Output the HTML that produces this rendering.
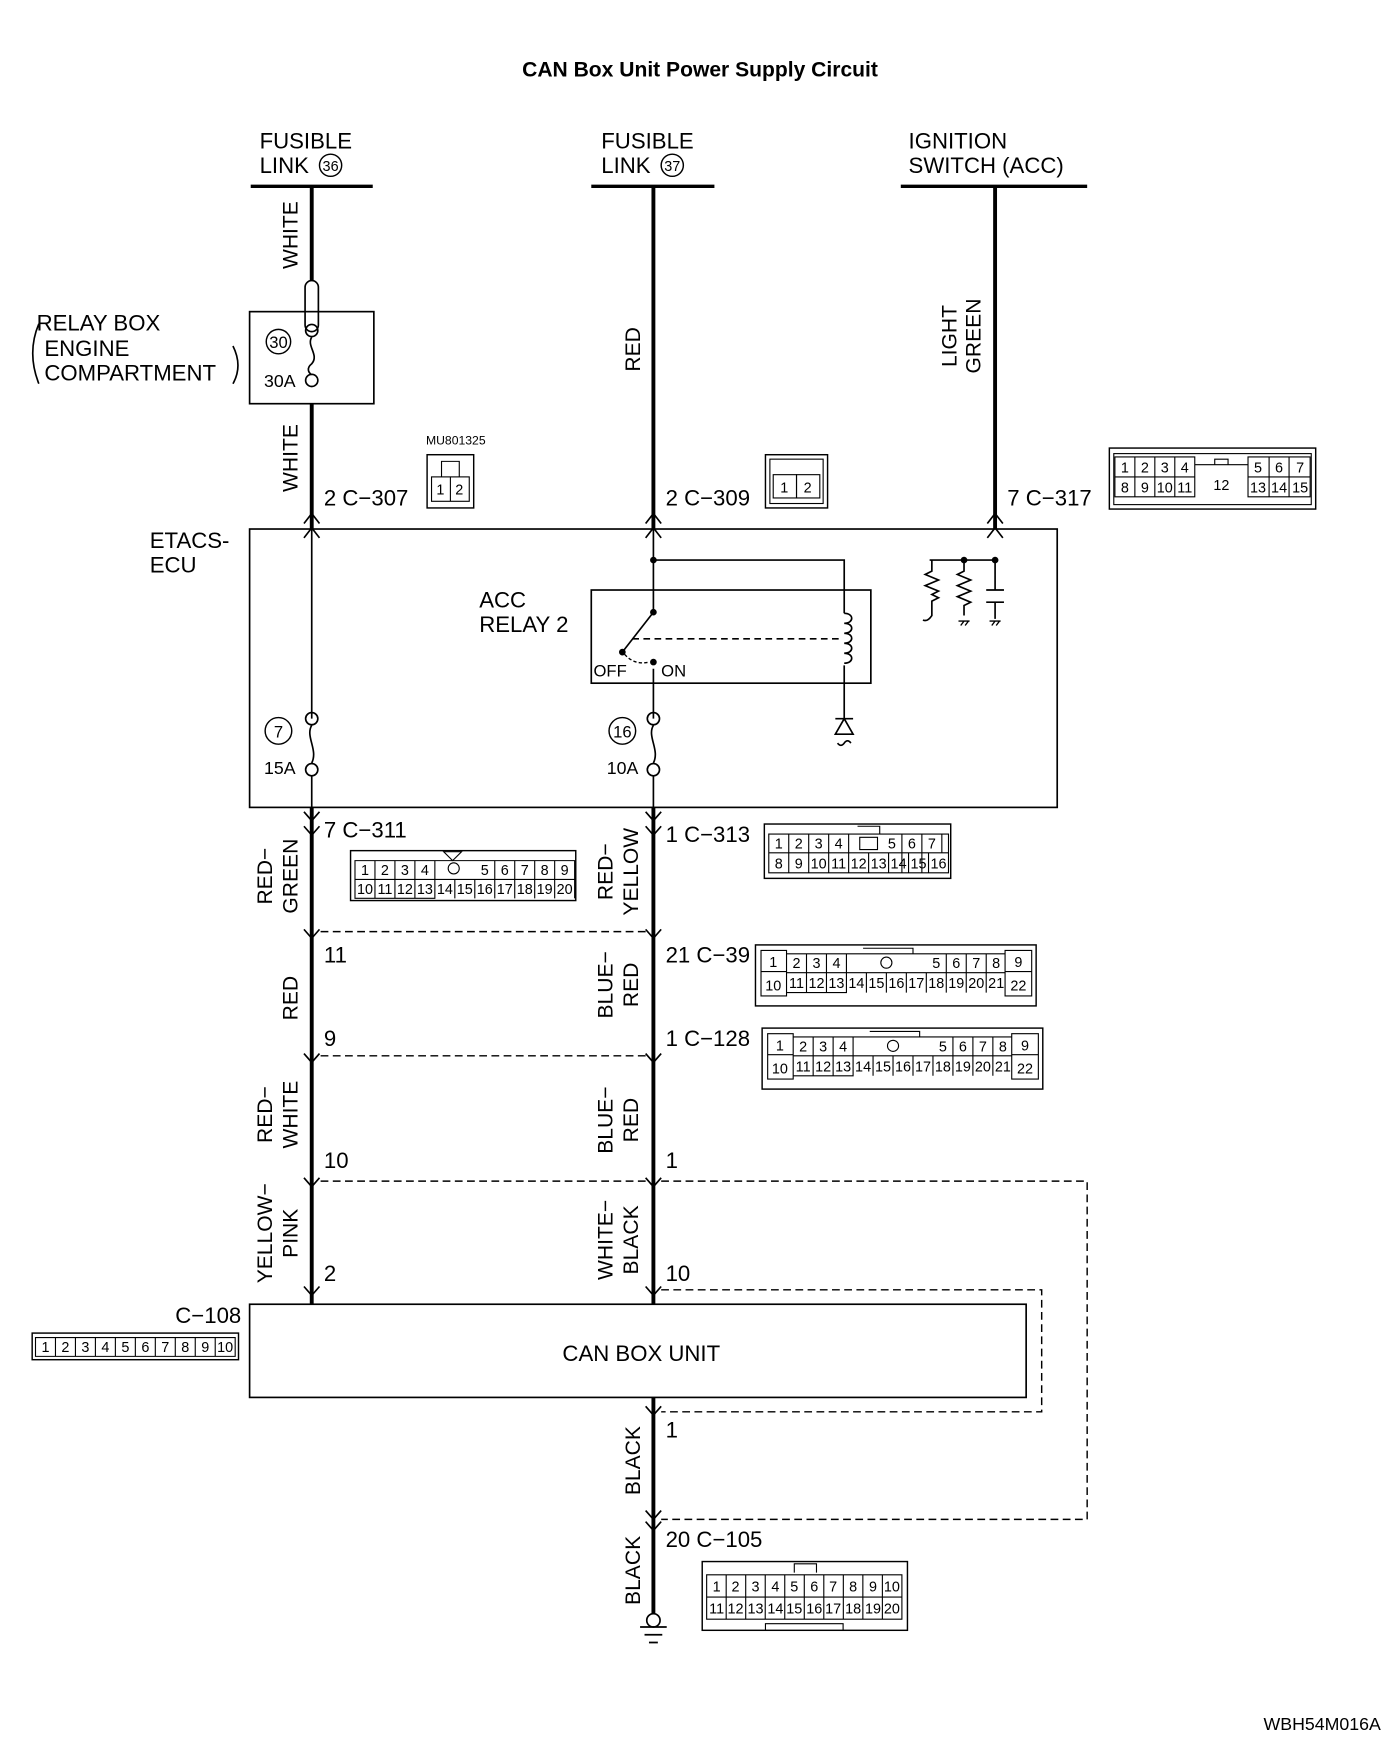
<!DOCTYPE html>
<html><head><meta charset="utf-8"><style>
html,body{margin:0;padding:0;background:#fff}
svg{display:block}
text{font-family:"Liberation Sans",sans-serif;fill:#000}
.c{font-size:13px;text-anchor:middle}
.n{font-size:20px}
.w{font-size:19px;text-anchor:middle}
</style></head><body>
<svg width="1400" height="1739" viewBox="0 0 1262 1568" preserveAspectRatio="none" xmlns="http://www.w3.org/2000/svg">
<g fill="none" stroke="#000">
<line x1="226" y1="168" x2="336" y2="168" stroke-width="3"/>
<line x1="533" y1="168" x2="644" y2="168" stroke-width="3"/>
<line x1="812" y1="168" x2="980" y2="168" stroke-width="3"/>
<path d="M281 168V253M281 364V477M589 168V477M897 168V477" stroke-width="3.5"/>
<path d="M281 728V1176M589 728V1176M589 1260V1455" stroke-width="3.5"/>
<rect x="225" y="281" width="112" height="83" stroke-width="1.5"/>
<rect x="275" y="253" width="12" height="46" rx="6" stroke-width="1.5"/>
<circle cx="281" cy="298" r="5.5" stroke-width="1.5"/><circle cx="281" cy="343" r="5.5" stroke-width="1.5"/>
<path d="M281 304C276 312 288 320 281 328C276 332 278 336 281 338" stroke-width="1.5"/>
<circle cx="251" cy="308" r="11" stroke-width="1.3"/>
<path d="M35 292Q24 318 35 346M210 312Q219 330 210 346" stroke-width="1.5"/>
<path d="M274 472L281 463L288 472M274 485L281 476L288 485M582 472L589 463L596 472M582 485L589 476L596 485M890 472L897 463L904 472M890 485L897 476L904 485" stroke-width="1.5"/>
<rect x="225" y="477" width="728" height="251" stroke-width="1.5"/>
<path d="M281 477V648M281 700V728M589 477V552M589 603V648M589 700V728" stroke-width="1.5"/>
<circle cx="281" cy="648" r="5.5" stroke-width="1.5"/><circle cx="281" cy="694" r="5.5" stroke-width="1.5"/>
<path d="M281 654C275 664 287 676 281 688" stroke-width="1.5"/>
<circle cx="589" cy="648" r="5.5" stroke-width="1.5"/><circle cx="589" cy="694" r="5.5" stroke-width="1.5"/>
<path d="M589 654C583 664 595 676 589 688" stroke-width="1.5"/>
<circle cx="251" cy="659" r="12" stroke-width="1.3"/><circle cx="561" cy="659" r="12" stroke-width="1.3"/>
<rect x="533" y="532" width="252" height="84" stroke-width="1.5"/>
<path d="M589 505H761V553M761 600V648" stroke-width="1.5"/>
<path d="M761 553c9 0 9 9 0 9c9 0 9 9 0 9c9 0 9 9 0 9c9 0 9 9 0 9c9 0 9 9 0 9" stroke-width="1.5"/>
<path d="M589 552L561 588" stroke-width="1.5"/>
<path d="M570 576H757" stroke-width="1.5" stroke-dasharray="6 4"/>
<path d="M563 590Q572 600 585 597" stroke-width="1.2" stroke-dasharray="3 2"/>
<path d="M761 648L753 662H769Z M753 648H769 M755 670q3 4 6 0q3-4 6 0" stroke-width="1.5"/>
<path d="M838 505H897M869 505V515l-6 3l12 5l-12 5l12 5l-12 5l12 5l-6 3V555M840 505V515l-6 3l12 5l-12 5l12 5l-6 3l6 3l-6 3V555q-4 6-8 4M897 505V532M889 532H905M889 543H905M897 543V558" stroke-width="1.5"/>
<path d="M864 560H874M866 564l3-4M870 564l3-4M892 560H902M894 564l3-4M898 564l3-4" stroke-width="1.2"/>
<path d="M274 732L281 740L288 732M274 745L281 753L288 745M582 732L589 740L596 732M582 745L589 753L596 745" stroke-width="1.5"/>
<path d="M274 838L281 846L288 838M582 838L589 846L596 838M274 950L281 958L288 950M582 950L589 958L596 950M274 1062L281 1070L288 1062M582 1062L589 1070L596 1062M274 1160L281 1168L288 1160M582 1160L589 1168L596 1160M582 1268L589 1276L596 1268M582 1362L589 1370L596 1362M582 1372L589 1380L596 1372" stroke-width="1.5"/>
<path d="M289 840H582M289 952H582M289 1065H582M596 1065H980V1370H596M596 1163H939V1273H596" stroke-width="1.3" stroke-dasharray="7 4"/>
<rect x="225" y="1176" width="700" height="84" stroke-width="1.5"/>
<circle cx="589" cy="1461" r="6" stroke-width="1.5"/>
<path d="M577 1467H601M581 1474H597M585 1481H593" stroke-width="1.5"/>
<rect x="385" y="410" width="42" height="48" stroke-width="1.3"/><rect x="389" y="430" width="34" height="22"/><path d="M398 430V416H414V430"/>
<rect x="690" y="410" width="56" height="48" stroke-width="1.3"/><rect x="694" y="414" width="48" height="40"/>
<rect x="1000" y="404" width="186" height="55" stroke-width="1.3"/><rect x="1004" y="409" width="178" height="46"/>
<rect x="316" y="767" width="203" height="45" stroke-width="1.3"/>
<rect x="689" y="743" width="168" height="49" stroke-width="1.3"/>
<rect x="681" y="852" width="253" height="55" stroke-width="1.3"/>
<rect x="687" y="927" width="253" height="55" stroke-width="1.3"/>
<rect x="29" y="1202" width="186" height="24" stroke-width="1.3"/>
<rect x="633" y="1408" width="185" height="62" stroke-width="1.3"/><path d="M716 1418V1410H736V1418"/>
<g stroke-width="1">
<line x1="406" y1="430" x2="406" y2="452"/>
<rect x="697" y="428" width="21" height="21"/><rect x="718" y="428" width="21" height="21"/>
<path d="M1005 412H1077V448H1005ZM1023 412V448M1041 412V448M1059 412V448M1005 430H1077M1077 419H1125M1125 412H1181V448H1125ZM1144 412V448M1162 412V448M1125 430H1181M1095 419V414H1107V419"/>
<path d="M320 776H392V810H320ZM338 776V793M356 776V793M374 776V793M320 793H518V810M428 776H518V793M446 776V793M464 776V793M482 776V793M500 776V793M338 793V810M356 793V810M374 793V810M392 793V810M410 793V810M428 793V810M446 793V810M464 793V810M482 793V810M500 793V810M518 776V810M392 776H428M400 768H416L408 776Z"/>
<circle cx="409" cy="783" r="5"/>
<path d="M693 752H765V787H693ZM711 752V787M729 752V787M747 752V787M693 769H855V787H765M795 752H855V769M813 752V787M831 752V787M849 752V769M765 769V787M783 769V787M801 769V787M819 769V787M837 769V787M765 752H795M775 755H791V766H775ZM773 745H793V752"/>
<g id="c39">
<path d="M686 857H709V898H686ZM686 876H709M906 857H930V898H906ZM906 876H930M709 860H763V895H709ZM727 860V895M745 860V895M709 877H906V895M836 860H906V877M853 860V877M871 860V877M889 860V877M763 877V895M781 877V895M799 877V895M817 877V895M835 877V895M853 877V895M871 877V895M889 877V895M763 860H836M778 855H823V860"/>
<circle cx="799" cy="868" r="5"/>
</g>
<use href="#c39" x="6" y="75"/>
<path d="M32 1206H212V1223H32ZM50 1206V1223M68 1206V1223M86 1206V1223M104 1206V1223M122 1206V1223M140 1206V1223M158 1206V1223M176 1206V1223M194 1206V1223"/>
<path d="M637 1420H813V1460H637ZM637 1440H813M654.6 1420V1460M672.2 1420V1460M689.8 1420V1460M707.4 1420V1460M725 1420V1460M742.6 1420V1460M760.2 1420V1460M777.8 1420V1460M795.4 1420V1460M690 1470V1464H760V1470"/>
</g>
</g>
<g fill="#000">
<circle cx="589" cy="505" r="3"/><circle cx="869" cy="505" r="3"/><circle cx="897" cy="505" r="3"/>
<circle cx="589" cy="552" r="3"/><circle cx="561" cy="588" r="3"/><circle cx="589" cy="597" r="3"/>
</g>
<text x="631" y="69" style="font-size:19px;font-weight:bold;text-anchor:middle">CAN Box Unit Power Supply Circuit</text>
<g class="n">
<text x="234" y="134">FUSIBLE</text><text x="234" y="156">LINK</text>
<text x="542" y="134">FUSIBLE</text><text x="542" y="156">LINK</text>
<text x="819" y="134">IGNITION</text><text x="819" y="156">SWITCH (ACC)</text>
<text x="33" y="298">RELAY BOX</text><text x="40" y="321">ENGINE</text><text x="40" y="343">COMPARTMENT</text>
<text x="135" y="494">ETACS-</text><text x="135" y="516">ECU</text>
<text x="432" y="548">ACC</text><text x="432" y="570">RELAY 2</text>
<text x="507" y="1227">CAN BOX UNIT</text>
<text x="292" y="456">2  C−307</text><text x="600" y="456">2  C−309</text><text x="908" y="456">7  C−317</text>
<text x="292" y="755">7  C−311</text><text x="600" y="759">1  C−313</text>
<text x="292" y="868">11</text><text x="600" y="868">21 C−39</text>
<text x="292" y="943">9</text><text x="600" y="943">1  C−128</text>
<text x="292" y="1053">10</text><text x="600" y="1053">1</text>
<text x="292" y="1155">2</text><text x="600" y="1155">10</text>
<text x="158" y="1193">C−108</text>
<text x="600" y="1296">1</text><text x="600" y="1395">20 C−105</text>
</g>
<circle cx="298" cy="149" r="10" fill="none" stroke="#000" stroke-width="1.3"/><text x="298" y="154" class="c">36</text>
<circle cx="606" cy="149" r="10" fill="none" stroke="#000" stroke-width="1.3"/><text x="606" y="154" class="c">37</text>
<text x="251" y="314" style="font-size:15px;text-anchor:middle">30</text>
<text x="238" y="349" style="font-size:16px">30A</text>
<text x="251" y="665" style="font-size:15px;text-anchor:middle">7</text>
<text x="238" y="698" style="font-size:16px">15A</text>
<text x="561" y="665" style="font-size:15px;text-anchor:middle">16</text>
<text x="547" y="698" style="font-size:16px">10A</text>
<text x="535" y="610" style="font-size:15px">OFF</text><text x="596" y="610" style="font-size:15px">ON</text>
<text x="384" y="401" style="font-size:11px">MU801325</text>
<text x="1139" y="1560" style="font-size:16px">WBH54M016A</text>
<g class="w">
<text transform="translate(268,212) rotate(-90)">WHITE</text>
<text transform="translate(268,413) rotate(-90)">WHITE</text>
<text transform="translate(577,315) rotate(-90)">RED</text>
<text transform="translate(862,303) rotate(-90)">LIGHT</text>
<text transform="translate(884,303) rotate(-90)">GREEN</text>
<text transform="translate(245,790) rotate(-90)">RED−</text>
<text transform="translate(268,790) rotate(-90)">GREEN</text>
<text transform="translate(552,786) rotate(-90)">RED−</text>
<text transform="translate(575,786) rotate(-90)">YELLOW</text>
<text transform="translate(268,900) rotate(-90)">RED</text>
<text transform="translate(552,888) rotate(-90)">BLUE−</text>
<text transform="translate(575,888) rotate(-90)">RED</text>
<text transform="translate(245,1005) rotate(-90)">RED−</text>
<text transform="translate(268,1005) rotate(-90)">WHITE</text>
<text transform="translate(552,1010) rotate(-90)">BLUE−</text>
<text transform="translate(575,1010) rotate(-90)">RED</text>
<text transform="translate(245,1112) rotate(-90)">YELLOW−</text>
<text transform="translate(268,1112) rotate(-90)">PINK</text>
<text transform="translate(552,1118) rotate(-90)">WHITE−</text>
<text transform="translate(575,1118) rotate(-90)">BLACK</text>
<text transform="translate(577,1317) rotate(-90)">BLACK</text>
<text transform="translate(577,1416) rotate(-90)">BLACK</text>
</g>
<g class="c">
<text x="397" y="446">1</text><text x="414" y="446">2</text>
<text x="707" y="444">1</text><text x="728" y="444">2</text>
<text x="1014" y="426">1</text><text x="1032" y="426">2</text><text x="1050" y="426">3</text><text x="1068" y="426">4</text><text x="1134" y="426">5</text><text x="1153" y="426">6</text><text x="1172" y="426">7</text>
<text x="1014" y="444">8</text><text x="1032" y="444">9</text><text x="1050" y="444">10</text><text x="1068" y="444">11</text><text x="1101" y="442">12</text><text x="1134" y="444">13</text><text x="1153" y="444">14</text><text x="1172" y="444">15</text>
<text x="329" y="789">1</text><text x="347" y="789">2</text><text x="365" y="789">3</text><text x="383" y="789">4</text><text x="437" y="789">5</text><text x="455" y="789">6</text><text x="473" y="789">7</text><text x="491" y="789">8</text><text x="509" y="789">9</text>
<text x="329" y="806">10</text><text x="347" y="806">11</text><text x="365" y="806">12</text><text x="383" y="806">13</text><text x="401" y="806">14</text><text x="419" y="806">15</text><text x="437" y="806">16</text><text x="455" y="806">17</text><text x="473" y="806">18</text><text x="491" y="806">19</text><text x="509" y="806">20</text>
<text x="702" y="765">1</text><text x="720" y="765">2</text><text x="738" y="765">3</text><text x="756" y="765">4</text><text x="804" y="765">5</text><text x="822" y="765">6</text><text x="840" y="765">7</text>
<text x="702" y="783">8</text><text x="720" y="783">9</text><text x="738" y="783">10</text><text x="756" y="783">11</text><text x="774" y="783">12</text><text x="792" y="783">13</text><text x="810" y="783">14</text><text x="828" y="783">15</text><text x="846" y="783">16</text>
<g id="t39">
<text x="697" y="872">1</text><text x="697" y="893">10</text><text x="918" y="872">9</text><text x="918" y="893">22</text>
<text x="718" y="873">2</text><text x="736" y="873">3</text><text x="754" y="873">4</text><text x="844" y="873">5</text><text x="862" y="873">6</text><text x="880" y="873">7</text><text x="898" y="873">8</text>
<text x="718" y="891">11</text><text x="736" y="891">12</text><text x="754" y="891">13</text><text x="772" y="891">14</text><text x="790" y="891">15</text><text x="808" y="891">16</text><text x="826" y="891">17</text><text x="844" y="891">18</text><text x="862" y="891">19</text><text x="880" y="891">20</text><text x="898" y="891">21</text>
</g>
<use href="#t39" x="6" y="75"/>
<text x="41" y="1219">1</text><text x="59" y="1219">2</text><text x="77" y="1219">3</text><text x="95" y="1219">4</text><text x="113" y="1219">5</text><text x="131" y="1219">6</text><text x="149" y="1219">7</text><text x="167" y="1219">8</text><text x="185" y="1219">9</text><text x="203" y="1219">10</text>
<text x="646" y="1435">1</text><text x="663" y="1435">2</text><text x="681" y="1435">3</text><text x="699" y="1435">4</text><text x="716" y="1435">5</text><text x="734" y="1435">6</text><text x="751" y="1435">7</text><text x="769" y="1435">8</text><text x="787" y="1435">9</text><text x="804" y="1435">10</text>
<text x="646" y="1455">11</text><text x="663" y="1455">12</text><text x="681" y="1455">13</text><text x="699" y="1455">14</text><text x="716" y="1455">15</text><text x="734" y="1455">16</text><text x="751" y="1455">17</text><text x="769" y="1455">18</text><text x="787" y="1455">19</text><text x="804" y="1455">20</text>
</g>
</svg>
</body></html>
